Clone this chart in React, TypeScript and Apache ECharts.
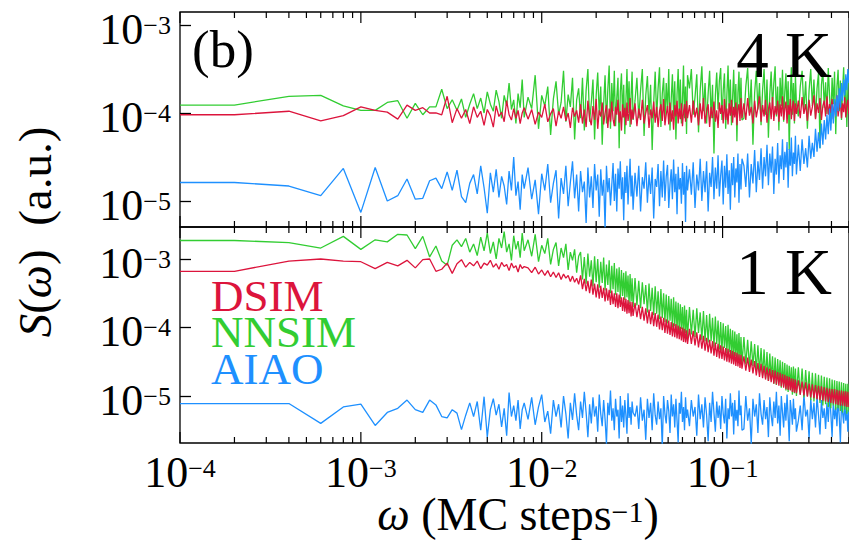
import React, { useEffect, useRef } from "react";
import * as echarts from "echarts";

// ---------- data ----------
// frequency index k, omega = k / N_STEPS (MC steps^-1)
const N_STEPS = 5000;
const freqIndex = [
  0.5, 1, 2, 3, 4, 5, 6, 7, 8, 9, 10, 11, 12, 13, 14, 15, 16, 17, 18, 19, 20,
  21, 22, 23, 24, 25, 26, 27, 28, 29, 30, 31, 32, 33, 34, 35, 36, 37, 38, 39, 40,
  42, 44, 46, 48, 50, 52, 54, 56, 58, 60, 62, 64, 66, 68, 70, 72, 74, 76, 78, 80,
  82, 84, 86, 88, 90, 92, 94, 96, 98, 100, 102, 104, 106, 108, 110, 112, 114, 116, 118, 120,
  122, 124, 126, 128, 130, 132, 134, 136, 138, 140, 142, 144, 146, 148, 150, 152, 154, 156, 158, 160,
  164, 168, 172, 176, 180, 184, 188, 192, 196, 200, 204, 208, 212, 216, 220, 224, 228, 232, 236, 240,
  244, 248, 252, 256, 260, 264, 268, 272, 276, 280, 284, 288, 292, 296, 300, 304, 308, 312, 316, 320,
  328, 336, 344, 352, 360, 368, 376, 384, 392, 400, 408, 416, 424, 432, 440, 448, 456, 464, 472, 480,
  488, 496, 504, 512, 520, 528, 536, 544, 552, 560, 568, 576, 584, 592, 600, 608, 616, 624, 632, 640,
  656, 672, 688, 704, 720, 736, 752, 768, 784, 800, 816, 832, 848, 864, 880, 896, 912, 928, 944, 960,
  976, 992, 1008, 1024, 1040, 1056, 1072, 1088, 1104, 1120, 1136, 1152, 1168, 1184, 1200, 1216, 1232, 1248, 1264, 1280,
  1312, 1344, 1376, 1408, 1440, 1472, 1504, 1536, 1568, 1600, 1632, 1664, 1696, 1728, 1760, 1792, 1824, 1856, 1888, 1920,
  1952, 1984, 2016, 2048, 2080, 2112, 2144, 2176, 2208, 2240, 2272, 2304, 2336, 2368, 2400, 2432, 2464, 2496,
];

// log10 S(omega), panel "4 K"
const dsim4KLog10 = [
  -4.02,
  -4.02, -3.98, -4.09, -4.03, -3.93, -3.97, -3.99, -4.07, -3.91, -3.97, -3.94, -4.0, -4.0, -4.02, -3.81, -4.11, -3.95, -4.06, -3.96, -4.12,
  -3.93, -4.05, -3.98, -4.14, -3.96, -4.03, -4.16, -3.92, -4.04, -3.99, -4.1, -3.86, -4.02, -4.08, -3.95, -4.06, -3.97, -4.12, -4.0, -3.94,
  -4.07, -3.96, -4.13, -3.99, -4.05, -3.9, -4.1, -4.01, -3.95, -4.15, -3.98, -4.06, -3.93, -4.09, -4.0, -4.17, -3.94, -4.04, -3.97, -4.11,
  -3.9, -4.12, -3.96, -4.16, -3.86, -4.06, -4.14, -3.92, -4.08, -3.84, -4.18, -3.97, -4.04, -3.88, -4.13, -4.0, -3.91, -4.17, -3.95, -4.1,
  -3.87, -4.07, -4.15, -3.93, -4.02, -3.85, -4.11, -3.98, -4.2, -3.9, -4.05, -3.94, -4.14, -3.88, -4.09, -4.01, -3.83, -4.13, -3.96, -4.07,
  -3.89, -4.15, -3.95, -4.08, -3.85, -4.12, -4.0, -3.91, -4.17, -3.96, -4.06, -3.87, -4.11, -3.93, -4.16, -3.98, -3.9, -4.09, -3.84, -4.14,
  -4.02, -3.92, -4.13, -3.88, -4.1, -3.97, -4.19, -3.91, -4.04, -3.86, -4.12, -3.95, -4.07, -3.89, -4.15, -3.99, -3.9, -4.1, -3.86, -4.06,
  -3.91, -4.11, -3.86, -4.05, -3.94, -4.14, -3.89, -4.07, -3.83, -4.12, -3.98, -3.9, -4.16, -3.93, -4.06, -3.87, -4.1, -3.97, -4.17, -3.88,
  -4.01, -3.91, -4.12, -3.84, -4.08, -3.95, -4.13, -3.89, -4.03, -3.85, -4.11, -3.93, -4.05, -3.88, -4.14, -3.96, -3.9, -4.09, -3.83, -4.06,
  -3.89, -4.08, -3.83, -4.03, -3.93, -4.12, -3.86, -4.05, -3.94, -3.81, -4.1, -3.91, -4.04, -3.85, -4.11, -3.96, -3.88, -4.07, -3.82, -4.09,
  -3.92, -4.02, -3.86, -4.1, -3.9, -4.04, -3.81, -4.08, -3.95, -3.87, -4.12, -3.91, -4.02, -3.84, -4.07, -3.93, -3.86, -4.09, -3.89, -4.01,
  -3.86, -4.06, -3.82, -4.01, -3.9, -4.09, -3.85, -4.03, -3.93, -3.8, -4.07, -3.89, -4.0, -3.83, -4.08, -3.92, -3.86, -4.04, -3.81, -4.02,
  -3.9, -4.0, -3.84, -4.07, -3.88, -3.99, -3.8, -4.04, -3.92, -3.85, -4.06, -3.89, -3.99, -3.82, -4.05, -3.91, -3.85, -4.01,
];
const nnsim4KLog10 = [
  -3.91,
  -3.91, -3.81, -3.8, -3.92, -3.97, -3.97, -3.88, -3.86, -4.06, -3.89, -4.02, -3.93, -3.93, -3.73, -3.95, -3.85, -3.97, -3.84, -4.05, -3.9,
  -3.78, -3.95, -3.83, -4.0, -3.76, -3.9, -3.98, -3.74, -3.87, -4.06, -3.8, -3.92, -3.66, -3.96, -3.85, -4.12, -3.78, -3.94, -3.62, -4.05,
  -3.82, -3.95, -3.57, -4.18, -3.8, -3.92, -3.7, -4.25, -3.84, -3.64, -4.02, -3.88, -3.52, -4.1, -3.79, -3.93, -3.6, -4.3, -3.85, -3.72,
  -4.06, -3.6, -4.2, -3.74, -3.5, -4.1, -3.88, -3.62, -4.3, -3.8, -3.54, -4.02, -3.7, -4.36, -3.9, -3.57, -4.12, -3.73, -3.46, -4.18,
  -3.66, -3.98, -3.52, -4.15, -3.83, -3.6, -4.4, -3.76, -3.55, -4.05, -3.68, -4.24, -3.87, -3.5, -4.0, -3.64, -4.16, -3.8, -3.53, -4.08,
  -3.86, -3.6, -4.06, -3.74, -3.5, -4.26, -3.8, -3.58, -4.02, -3.68, -4.42, -3.88, -3.53, -4.05, -3.72, -3.48, -4.16, -3.78, -3.6, -4.1,
  -3.66, -3.98, -3.5, -4.2, -3.84, -3.56, -4.04, -3.64, -4.3, -3.79, -3.5, -4.0, -3.62, -4.12, -3.86, -3.46, -4.06, -3.7, -4.24, -3.57,
  -3.72, -3.5, -4.02, -3.82, -3.56, -4.22, -3.74, -3.47, -3.98, -3.66, -4.12, -3.78, -3.52, -4.06, -3.68, -4.46, -3.8, -3.54, -3.96, -3.63,
  -3.49, -4.08, -3.75, -3.55, -4.18, -3.8, -3.46, -3.99, -3.62, -4.14, -3.83, -3.51, -4.03, -3.67, -4.32, -3.77, -3.53, -4.01, -3.6, -4.08,
  -4.06, -3.7, -3.49, -4.0, -3.62, -4.36, -3.77, -3.52, -3.96, -3.66, -4.14, -3.74, -3.5, -4.02, -3.62, -4.28, -3.79, -3.53, -3.94, -3.66,
  -3.47, -4.04, -3.7, -4.2, -3.6, -3.92, -3.51, -4.1, -3.76, -3.55, -3.98, -3.64, -4.42, -3.81, -3.48, -4.02, -3.66, -4.12, -3.57, -3.9,
  -4.04, -3.7, -3.52, -3.96, -3.64, -4.18, -3.74, -3.5, -3.92, -3.62, -4.06, -3.72, -3.54, -4.4, -3.68, -3.52, -3.94, -3.65, -4.01, -3.49,
  -3.8, -4.12, -3.6, -3.9, -3.53, -4.24, -3.7, -3.51, -3.98, -3.63, -4.08, -3.75, -3.48, -3.94, -3.61, -4.16, -3.72, -3.55,
];
const aiao4KLog10 = [
  -4.79,
  -4.79, -4.83, -4.94, -4.63, -5.13, -4.62, -5.0, -4.94, -4.75, -4.98, -4.97, -4.77, -4.74, -4.86, -4.67, -4.88, -4.65, -4.95, -5.02, -4.8,
  -4.7, -4.92, -4.6, -4.85, -5.14, -4.68, -4.9, -4.64, -4.96, -4.72, -4.83, -5.04, -4.66, -4.88, -4.5, -4.94, -4.78, -5.1, -4.7, -4.86,
  -4.62, -4.98, -4.76, -5.15, -4.69, -4.88, -4.58, -5.02, -4.8, -4.65, -5.2, -4.74, -4.92, -4.6, -5.06, -4.79, -4.55, -4.97, -4.7, -5.12,
  -4.66, -4.9, -4.78, -5.25, -4.62, -4.96, -4.72, -5.08, -4.58, -4.88, -4.7, -5.18, -4.64, -4.94, -4.76, -5.3, -4.6, -4.9, -4.74, -5.05,
  -4.82, -4.57, -5.0, -4.69, -5.12, -4.63, -4.86, -4.55, -4.98, -4.73, -5.22, -4.67, -4.91, -4.6, -5.04, -4.77, -4.52, -4.95, -4.71, -5.1,
  -4.68, -4.95, -4.6, -5.12, -4.73, -4.86, -4.56, -5.02, -4.7, -4.92, -4.62, -5.2, -4.75, -4.84, -4.58, -5.06, -4.66, -4.96, -4.54, -5.0,
  -4.72, -4.59, -5.08, -4.81, -4.64, -4.98, -4.53, -4.9, -4.69, -5.15, -4.61, -4.87, -4.74, -5.03, -4.57, -4.93, -4.67, -5.24, -4.6, -4.88,
  -4.64, -4.93, -4.56, -5.08, -4.7, -4.88, -4.52, -5.0, -4.66, -4.9, -4.55, -5.12, -4.68, -4.84, -4.5, -4.98, -4.62, -4.86, -4.48, -4.95,
  -4.71, -4.54, -5.04, -4.6, -4.85, -4.47, -4.92, -4.65, -5.1, -4.57, -4.82, -4.5, -4.96, -4.63, -4.79, -4.46, -5.02, -4.58, -4.87, -4.52,
  -4.6, -4.84, -4.46, -4.96, -4.58, -4.8, -4.42, -4.9, -4.55, -4.76, -4.4, -4.86, -4.5, -4.72, -4.36, -4.82, -4.46, -4.68, -4.38, -4.92,
  -4.52, -4.7, -4.34, -4.8, -4.48, -4.64, -4.3, -4.76, -4.44, -4.62, -4.33, -4.85, -4.41, -4.6, -4.28, -4.72, -4.45, -4.58, -4.26, -4.7,
  -4.36, -4.66, -4.3, -4.58, -4.4, -4.62, -4.26, -4.52, -4.34, -4.5, -4.18, -4.44, -4.22, -4.4, -4.12, -4.36, -4.08, -4.3, -4.02, -4.24,
  -3.95, -4.2, -3.9, -4.12, -3.84, -4.04, -3.8, -3.98, -3.72, -3.94, -3.66, -3.86, -3.62, -3.8, -3.56, -3.74, -3.5, -3.66,
];

// log10 S(omega), panel "1 K"
const dsim1KLog10 = [
  -3.18,
  -3.18, -3.03, -3.0, -3.03, -3.04, -3.14, -3.05, -3.1, -3.02, -3.13, -3.01, -3.0, -3.18, -3.15, -3.06, -3.21, -3.07, -3.01, -3.12, -3.05,
  -3.1, -3.03, -3.14, -3.06, -3.09, -3.02, -3.12, -3.07, -3.15, -3.05, -3.11, -3.08, -3.17, -3.06, -3.13, -3.1, -3.19, -3.08, -3.14, -3.11,
  -3.13, -3.2, -3.12, -3.22, -3.16, -3.24, -3.17, -3.26, -3.19, -3.27, -3.2, -3.3, -3.22, -3.28, -3.24, -3.33, -3.25, -3.34, -3.28, -3.37,
  -3.24, -3.44, -3.29, -3.47, -3.32, -3.5, -3.3, -3.52, -3.36, -3.56, -3.37, -3.58, -3.39, -3.57, -3.42, -3.62, -3.43, -3.61, -3.45, -3.67,
  -3.46, -3.66, -3.5, -3.7, -3.5, -3.72, -3.52, -3.7, -3.56, -3.76, -3.56, -3.77, -3.58, -3.8, -3.6, -3.79, -3.62, -3.84, -3.63, -3.83,
  -3.64, -3.85, -3.67, -3.88, -3.7, -3.9, -3.72, -3.94, -3.74, -3.95, -3.77, -3.98, -3.79, -3.99, -3.81, -4.03, -3.84, -4.04, -3.86, -4.08,
  -3.88, -4.09, -3.9, -4.11, -3.92, -4.13, -3.94, -4.14, -3.95, -4.16, -3.97, -4.17, -3.99, -4.19, -4.0, -4.21, -4.02, -4.22, -4.04, -4.24,
  -4.02, -4.24, -4.05, -4.26, -4.07, -4.29, -4.1, -4.31, -4.12, -4.34, -4.15, -4.36, -4.18, -4.38, -4.2, -4.41, -4.22, -4.43, -4.24, -4.45,
  -4.26, -4.46, -4.28, -4.48, -4.3, -4.5, -4.31, -4.51, -4.33, -4.53, -4.34, -4.54, -4.36, -4.56, -4.37, -4.57, -4.39, -4.59, -4.4, -4.6,
  -4.42, -4.63, -4.44, -4.65, -4.47, -4.67, -4.49, -4.7, -4.52, -4.72, -4.53, -4.74, -4.56, -4.76, -4.58, -4.78, -4.6, -4.8, -4.62, -4.82,
  -4.63, -4.83, -4.65, -4.85, -4.66, -4.86, -4.68, -4.88, -4.69, -4.9, -4.71, -4.91, -4.72, -4.92, -4.74, -4.94, -4.75, -4.95, -4.76, -4.96,
  -4.77, -4.98, -4.79, -4.99, -4.8, -5.01, -4.82, -5.02, -4.83, -5.03, -4.84, -5.05, -4.85, -5.06, -4.86, -5.07, -4.87, -5.08, -4.88, -5.09,
  -4.89, -5.1, -4.9, -5.11, -4.9, -5.12, -4.91, -5.13, -4.92, -5.14, -4.92, -5.14, -4.93, -5.15, -4.93, -5.16, -4.94, -5.16,
];
const nnsim1KLog10 = [
  -2.73,
  -2.73, -2.76, -2.84, -2.67, -2.86, -2.72, -2.75, -2.64, -2.65, -2.85, -2.67, -2.97, -2.81, -3.03, -3.09, -2.8, -2.72, -2.82, -2.7, -2.9,
  -2.78, -2.95, -2.68, -2.88, -2.62, -2.92, -2.75, -3.0, -2.7, -2.84, -2.6, -2.9, -2.78, -3.02, -2.66, -2.86, -2.74, -2.98, -2.62, -2.88,
  -2.72, -2.96, -2.64, -3.04, -2.8, -2.92, -2.7, -3.08, -2.86, -2.76, -3.1, -2.84, -2.98, -2.78, -3.16, -2.9, -3.02, -2.86, -3.2, -2.96,
  -2.9, -3.3, -2.97, -3.36, -2.92, -3.26, -3.02, -3.4, -2.96, -3.34, -3.0, -3.42, -3.04, -3.35, -2.98, -3.46, -3.08, -3.38, -3.02, -3.5,
  -3.1, -3.44, -3.06, -3.52, -3.14, -3.48, -3.12, -3.58, -3.16, -3.54, -3.2, -3.6, -3.18, -3.56, -3.24, -3.66, -3.22, -3.62, -3.28, -3.7,
  -3.28, -3.68, -3.32, -3.72, -3.34, -3.66, -3.38, -3.78, -3.36, -3.76, -3.42, -3.82, -3.4, -3.8, -3.47, -3.88, -3.44, -3.86, -3.5, -3.92,
  -3.52, -3.94, -3.54, -3.9, -3.58, -4.0, -3.56, -3.98, -3.62, -4.04, -3.64, -4.06, -3.66, -4.02, -3.7, -4.12, -3.68, -4.08, -3.74, -4.14,
  -3.7, -4.1, -3.74, -4.14, -3.72, -4.08, -3.78, -4.18, -3.76, -4.2, -3.82, -4.22, -3.8, -4.2, -3.86, -4.28, -3.84, -4.24, -3.9, -4.32,
  -3.92, -4.34, -3.94, -4.3, -3.98, -4.38, -3.96, -4.36, -4.02, -4.42, -4.04, -4.46, -4.06, -4.42, -4.1, -4.5, -4.08, -4.48, -4.14, -4.54,
  -4.14, -4.54, -4.18, -4.58, -4.2, -4.56, -4.24, -4.64, -4.26, -4.66, -4.3, -4.7, -4.32, -4.74, -4.36, -4.78, -4.38, -4.76, -4.42, -4.82,
  -4.44, -4.84, -4.46, -4.8, -4.48, -4.88, -4.5, -4.86, -4.52, -4.92, -4.54, -4.94, -4.56, -4.9, -4.58, -4.98, -4.57, -4.96, -4.6, -5.0,
  -4.58, -4.98, -4.6, -5.02, -4.62, -5.0, -4.64, -5.06, -4.66, -5.08, -4.67, -5.04, -4.69, -5.1, -4.7, -5.14, -4.72, -5.12, -4.73, -5.16,
  -4.74, -5.18, -4.76, -5.14, -4.77, -5.2, -4.78, -5.18, -4.79, -5.22, -4.8, -5.24, -4.81, -5.2, -4.82, -5.26, -4.82, -5.23,
];
const aiao1KLog10 = [
  -5.11,
  -5.11, -5.11, -5.4, -5.16, -5.12, -5.43, -5.24, -5.18, -5.06, -5.2, -5.24, -5.06, -5.13, -5.3, -5.32, -5.2, -5.25, -5.49, -5.28, -5.1,
  -5.3, -5.08, -5.5, -5.01, -5.6, -5.2, -5.04, -5.28, -5.12, -5.45, -5.18, -5.58, -4.95, -5.3, -5.14, -5.36, -5.06, -5.48, -5.2, -5.1,
  -5.34, -5.02, -5.42, -5.16, -4.98, -5.38, -5.22, -5.55, -5.06, -5.3, -5.12, -5.46, -5.0, -5.26, -5.62, -5.1, -5.35, -4.96, -5.28, -5.5,
  -5.08, -5.32, -4.94, -5.24, -5.6, -5.12, -5.4, -5.02, -5.3, -5.15, -5.52, -4.98, -5.26, -5.44, -5.06, -5.34, -5.7, -5.1, -5.28, -4.92,
  -5.36, -5.18, -5.5, -5.04, -5.3, -5.2, -5.62, -5.0, -5.38, -5.14, -5.46, -5.06, -5.28, -5.55, -4.96, -5.32, -5.16, -5.42, -5.08, -5.24,
  -5.3, -5.14, -5.48, -5.02, -5.36, -5.2, -5.64, -5.04, -5.32, -5.1, -5.5, -4.96, -5.28, -5.42, -5.08, -5.34, -5.18, -5.75, -5.0, -5.26,
  -5.4, -5.06, -5.22, -5.54, -4.98, -5.3, -5.12, -5.46, -5.04, -5.36, -5.68, -5.1, -5.26, -4.94, -5.38, -5.16, -5.5, -5.02, -5.32, -5.2,
  -5.44, -5.06, -5.3, -5.16, -5.58, -4.98, -5.34, -5.12, -5.46, -5.02, -5.28, -5.66, -5.1, -5.38, -4.94, -5.24, -5.52, -5.08, -5.32, -5.14,
  -5.48, -5.0, -5.26, -5.4, -5.04, -5.62, -5.18, -5.34, -4.96, -5.3, -5.1, -5.56, -5.06, -5.36, -5.2, -5.44, -4.92, -5.28, -5.14, -5.5,
  -5.48, -5.0, -5.36, -5.18, -5.7, -5.04, -5.3, -5.12, -5.54, -4.96, -5.26, -5.42, -5.06, -5.34, -5.16, -5.6, -5.02, -5.28, -5.44, -5.08,
  -5.32, -4.94, -5.4, -5.14, -5.58, -5.0, -5.24, -5.46, -5.1, -5.36, -4.98, -5.3, -5.66, -5.06, -5.22, -5.42, -5.04, -5.34, -5.18, -5.52,
  -5.36, -5.14, -5.5, -4.98, -5.3, -5.2, -5.62, -5.04, -5.34, -5.1, -5.46, -5.0, -5.28, -5.56, -5.06, -5.32, -5.18, -5.48, -5.1, -5.38,
  -4.96, -5.26, -5.6, -5.08, -5.34, -5.16, -5.44, -5.02, -5.3, -5.68, -5.12, -5.24, -5.4, -5.06, -5.36, -5.2, -5.52, -5.1,
];

const seriesNames = ["DSIM", "NNSIM", "AIAO"];
const panelLabels = ["4 K", "1 K"];
const xMajorTicks = [1e-4, 1e-3, 1e-2, 1e-1];
const xMinorTicks = [
  2e-4, 3e-4, 4e-4, 5e-4, 6e-4, 7e-4, 8e-4, 9e-4,
  2e-3, 3e-3, 4e-3, 5e-3, 6e-3, 7e-3, 8e-3, 9e-3,
  2e-2, 3e-2, 4e-2, 5e-2, 6e-2, 7e-2, 8e-2, 9e-2,
  2e-1, 3e-1, 4e-1, 5e-1,
];

// ---------- styling ----------
const FONT = "Liberation Serif";
const SERIF_LIST = '"Liberation Serif", "Times New Roman", serif';
const RED = "#DC143C";
const GREEN = "#32CD32";
const BLUE = "#1E90FF";
const colors: Record<string, string> = { DSIM: RED, NNSIM: GREEN, AIAO: BLUE };

const powLabel = (v: number) => {
  const e = Math.log10(v);
  const r = Math.round(e);
  if (Math.abs(e - r) > 1e-6) return "";
  return "{b|10}{s|" + (r < 0 ? "\u2212" : "") + Math.abs(r) + "}";
};
const powRich = {
  b: { fontFamily: FONT, fontSize: 44, lineHeight: 34, color: "#000" },
  s: { fontFamily: FONT, fontSize: 26, lineHeight: 22, verticalAlign: "top", color: "#000" },
};

const toPoints = (logs: number[]) =>
  freqIndex.slice(0, logs.length).map((k, i) => [k / N_STEPS, Math.pow(10, logs[i])]);

const lineSeries = (name: string, gi: number, logs: number[], z: number) => ({
  type: "line",
  name,
  xAxisIndex: gi,
  yAxisIndex: gi,
  data: toPoints(logs),
  showSymbol: false,
  symbol: "none",
  lineStyle: { color: colors[name], width: 1.3 },
  itemStyle: { color: colors[name] },
  z,
  clip: true,
  silent: true,
});

const tickSeries = (gi: number) => ({
  type: "custom",
  xAxisIndex: gi,
  yAxisIndex: gi,
  silent: true,
  z: 20,
  encode: { x: 0, y: 1 },
  data: [...xMajorTicks.map((v) => [v, 1e-4, 1]), ...xMinorTicks.map((v) => [v, 1e-4, 0])],
  renderItem: (params: any, api: any) => {
    const x = api.coord([api.value(0), api.value(1)])[0];
    const cs = params.coordSys;
    const L = api.value(2) ? 11 : 6;
    const style = { stroke: "#000", lineWidth: 1.2 };
    return {
      type: "group",
      children: [
        { type: "line", shape: { x1: x, y1: cs.y + cs.height, x2: x, y2: cs.y + cs.height - L }, style },
        { type: "line", shape: { x1: x, y1: cs.y, x2: x, y2: cs.y + L }, style },
      ],
    };
  },
});

const yAxisBase = (gi: number, min: number, max: number) => ({
  gridIndex: gi,
  type: "log",
  logBase: 10,
  min,
  max,
  axisLine: { show: false },
  axisTick: { show: true, inside: true, length: 11, lineStyle: { color: "#000", width: 1.3 } },
  axisLabel: {
    formatter: powLabel,
    rich: powRich,
    margin: 9,
    padding: [9, 0, 0, 0],
    showMinLabel: false,
    showMaxLabel: false,
  },
  splitLine: { show: false },
});

// legend entries: one rich text block, one coloured serif line per series
const legendKeys = ["d", "n", "a"];
const legendRich: Record<string, any> = {};
seriesNames.forEach((n, i) => {
  legendRich[legendKeys[i]] = {
    fontFamily: SERIF_LIST,
    fontSize: 45,
    fontWeight: "normal",
    lineHeight: 36.3,
    fill: colors[n],
    color: colors[n],
  };
});
const legendBlock = {
  type: "text",
  x: 211,
  y: 278,
  z: 30,
  style: {
    text: seriesNames.map((n, i) => "{" + legendKeys[i] + "|" + n + "}").join("\n"),
    rich: legendRich,
    fontFamily: SERIF_LIST,
    fontSize: 45,
    textAlign: "left",
    textVerticalAlign: "top",
  },
};

const option = {
  animation: false,
  backgroundColor: "#fff",
  textStyle: { fontFamily: FONT },
  grid: [
    { left: 180, top: 12, width: 679, height: 215, show: true, borderColor: "#000", borderWidth: 1.3, backgroundColor: "transparent" },
    { left: 180, top: 227, width: 679, height: 216, show: true, borderColor: "#000", borderWidth: 1.3, backgroundColor: "transparent" },
  ],
  xAxis: [
    {
      gridIndex: 0, type: "log", logBase: 10, min: 1e-4, max: 0.5,
      axisLine: { show: false }, axisTick: { show: false }, axisLabel: { show: false }, splitLine: { show: false },
    },
    {
      gridIndex: 1, type: "log", logBase: 10, min: 1e-4, max: 0.5,
      axisLine: { show: false }, axisTick: { show: false }, splitLine: { show: false },
      axisLabel: { formatter: powLabel, rich: powRich, margin: 12, showMaxLabel: false },
    },
  ],
  yAxis: [yAxisBase(0, 5.06e-6, 1.406e-3), yAxisBase(1, 2.06e-6, 2.93e-3)],
  graphic: [
    legendBlock,
    {
      type: "text", x: 192, y: 49, z: 30,
      style: { text: "(b)", fontFamily: FONT, fontSize: 53, fill: "#000", textAlign: "left", textVerticalAlign: "middle" },
    },
    {
      type: "text", x: 832, y: 55, z: 30,
      style: { text: panelLabels[0], fontFamily: FONT, fontSize: 65, fill: "#000", textAlign: "right", textVerticalAlign: "middle" },
    },
    {
      type: "text", x: 832, y: 272, z: 30,
      style: { text: panelLabels[1], fontFamily: FONT, fontSize: 65, fill: "#000", textAlign: "right", textVerticalAlign: "middle" },
    },
    {
      type: "text", x: 518, y: 514, z: 30,
      style: {
        text: "{i|\u03c9}{n| (MC steps}{s|\u22121}{n|)}",
        textAlign: "center",
        textVerticalAlign: "middle",
        fill: "#000",
        fontFamily: FONT,
        fontSize: 46,
        rich: {
          i: { fontFamily: FONT, fontSize: 46, lineHeight: 36, fontStyle: "italic", fill: "#000" },
          n: { fontFamily: FONT, fontSize: 46, lineHeight: 36, fill: "#000" },
          s: { fontFamily: FONT, fontSize: 30, lineHeight: 20, verticalAlign: "top", fill: "#000" },
        },
      },
    },
    {
      type: "text", x: 35, y: 232, rotation: Math.PI / 2, z: 30,
      style: {
        text: "{i|S}{n|(}{i|\u03c9}{n|)  (a.u.)}",
        textAlign: "center",
        textVerticalAlign: "middle",
        fill: "#000",
        fontFamily: FONT,
        fontSize: 47,
        rich: {
          i: { fontFamily: FONT, fontSize: 47, lineHeight: 36, fontStyle: "italic", fill: "#000" },
          n: { fontFamily: FONT, fontSize: 47, lineHeight: 36, fill: "#000" },
        },
      },
    },
  ],
  series: [
    lineSeries("NNSIM", 0, nnsim4KLog10, 2),
    lineSeries("DSIM", 0, dsim4KLog10, 3),
    lineSeries("AIAO", 0, aiao4KLog10, 4),
    lineSeries("AIAO", 1, aiao1KLog10, 2),
    lineSeries("NNSIM", 1, nnsim1KLog10, 3),
    lineSeries("DSIM", 1, dsim1KLog10, 4),
    tickSeries(0),
    tickSeries(1),
  ],
};

export default function App() {
  const ref = useRef<HTMLDivElement>(null);
  useEffect(() => {
    if (!ref.current) return;
    const chart = echarts.init(ref.current, null, { renderer: "svg" });
    chart.setOption(option as any);
    return () => chart.dispose();
  }, []);
  return (
    <div
      ref={ref}
      style={{ position: "absolute", left: 0, top: 0, width: 849, height: 554, background: "#fff" }}
    />
  );
}
